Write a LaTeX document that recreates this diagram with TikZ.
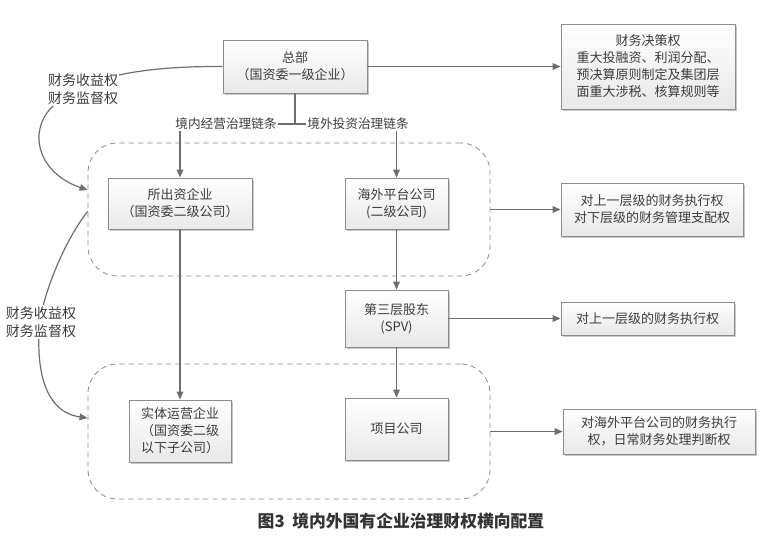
\documentclass[tikz,border=0pt]{standalone}
\usepackage{fontspec}
\setmainfont{Noto Sans CJK SC}
\usetikzlibrary{arrows.meta,shadows,calc}
\definecolor{linec}{HTML}{6E6E6E}
\definecolor{textc}{HTML}{3C3C3C}
\definecolor{boxd}{HTML}{8C8C8C}
\begin{document}
\begin{tikzpicture}[x=0.75pt,y=-0.75pt,
 every node/.style={text=textc, font=\fontsize{9.75pt}{12.75pt}\selectfont},
 box/.style={draw=boxd, line width=0.6pt, top color=white, bottom color=black!9, align=center, inner sep=1pt,
   drop shadow={shadow xshift=1.2pt, shadow yshift=-1.2pt, opacity=0.22, fill=black}},
 grp/.style={draw=black!45, dash pattern=on 4pt off 3pt, rounded corners=22pt, line width=0.6pt, inner sep=0pt},
 arr/.style={draw=linec, line width=0.9pt, -{Triangle[length=6pt,width=5pt]}},
 ln/.style={draw=linec, line width=0.9pt},
 side/.style={fill=white, inner sep=1pt, align=left, font=\fontsize{10.5pt}{13.5pt}\selectfont},
 chain/.style={fill=white, inner sep=1pt, font=\fontsize{9.5pt}{11pt}\selectfont}
]
\useasboundingbox (0,0) rectangle (763,536);

% dashed groups
\node[grp, minimum width=301.5pt, minimum height=99.75pt] (g1) at (289,209.5) {};
\node[grp, minimum width=301.5pt, minimum height=101.25pt] (g2) at (289,431.5) {};

% boxes
\node[box, minimum width=108pt, minimum height=39.75pt] (hq) at (295,66.5) {总部\\（国资委一级企业）};
\node[box, minimum width=130.5pt, minimum height=63.75pt] (dec) at (648,66.5) {财务决策权\\重大投融资、利润分配、\\预决算原则制定及集团层\\面重大涉税、核算规则等};
\node[box, minimum width=108pt, minimum height=38.25pt] (b1) at (180,203.5) {所出资企业\\（国资委二级公司）};
\node[box, minimum width=77.25pt, minimum height=38.25pt] (b2) at (396.5,203.5) {海外平台公司\\(二级公司)};
\node[box, minimum width=136.5pt, minimum height=39.75pt] (r2) at (652,209.5) {对上一层级的财务执行权\\对下层级的财务管理支配权};
\node[box, minimum width=77.25pt, minimum height=42.75pt] (b3) at (396.5,318.5) {第三层股东\\(SPV)};
\node[box, minimum width=129.75pt, minimum height=24.75pt] (r3) at (647.5,318.5) {对上一层级的财务执行权};
\node[box, minimum width=77.25pt, minimum height=46.5pt] (b4) at (396.5,429) {项目公司};
\node[box, minimum width=76.5pt, minimum height=46.5pt] (b5) at (180,431) {实体运营企业\\（国资委二级\\以下子公司）};
\node[box, minimum width=144pt, minimum height=33.75pt] (r4) at (659,431.5) {对海外平台公司的财务执行\\权，日常财务处理判断权};

% chain labels
\node[chain] (lin) at (226,124) {境内经营治理链条};
\node[chain] (lout) at (358,124) {境外投资治理链条};
\draw[ln] (hq.south) -- (hq.south |- lin.east);
\draw[ln] (lin.east) -- (lout.west);
\draw[arr] (b1.north |- lin.south) -- (b1.north);
\draw[arr] (b2.north |- lout.south) -- (b2.north);

% main arrows
\draw[arr] (hq.east) -- (dec.west);
\draw[arr] (g1.east) -- (g1.east -| r2.west);
\draw[arr] (b2.south) -- (b3.north);
\draw[arr] (b3.east) -- (r3.west);
\draw[arr] (b3.south) -- (b4.north);
\draw[arr] (b1.south) -- (b5.north);
\draw[arr] (g2.east) -- (g2.east -| r4.west);

% left curves
\draw[arr] (hq.west) .. controls (150,66) and (90,75) .. (60,100)
  .. controls (25,125) and (35,172) .. ($(g1.west)+(0,-19.5)$);
\node[side] (s1) at (83,89.5) {财务收益权\\财务监督权};
\draw[arr] ($(g1.west)+(0,2)$) .. controls (65,240) and (45,290) .. (40,320)
  .. controls (35,370) and (45,412) .. ($(g2.west)+(0,-13.5)$);
\node[side] (s2) at (41,322) {财务收益权\\财务监督权};

% caption
\node[font=\bfseries\fontsize{12.6pt}{15pt}\selectfont, text=black!80] (cap) at (401,521) {图3\hspace{0.45em}境内外国有企业治理财权横向配置};
\end{tikzpicture}
\end{document}
